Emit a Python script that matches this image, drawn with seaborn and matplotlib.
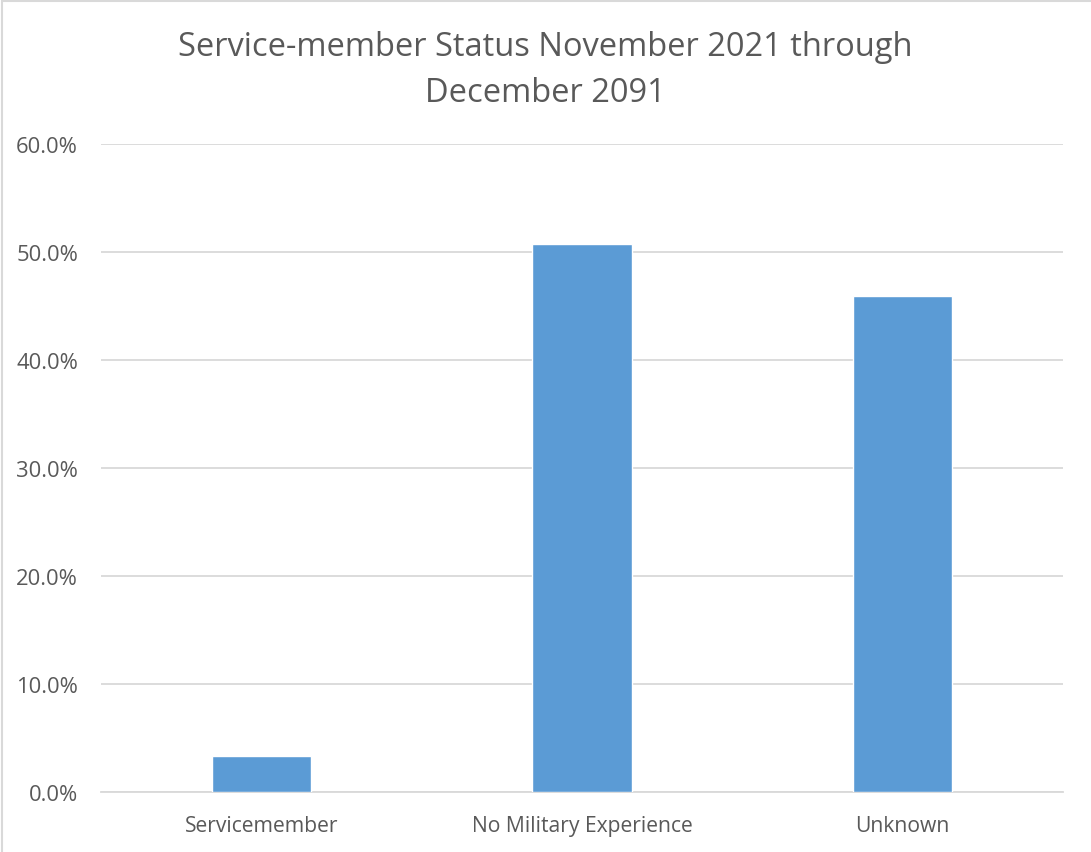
import matplotlib
matplotlib.use("Agg")
import matplotlib.pyplot as plt
import seaborn as sns
import pandas as pd
from matplotlib.patches import Rectangle
from matplotlib.ticker import FuncFormatter

categories = ["Servicemember", "No Military Experience", "Unknown"]
shares = [3.3, 50.7, 45.9]
y_ticks = [0, 10, 20, 30, 40, 50, 60]
title = "Service-member Status November 2021 through\nDecember 2091"

sns.set_theme(style="white")
plt.rcParams["font.family"] = ["Open Sans", "DejaVu Sans"]

TEXT = "#595959"
GRID = "#d9d9d9"
BAR = "#5b9bd5"

df = pd.DataFrame({"category": categories, "share": shares})

fig = plt.figure(figsize=(10.91, 8.53), dpi=100)
ax = fig.add_axes([101 / 1091, 60 / 853, 962 / 1091, 648 / 853])

sns.barplot(data=df, x="category", y="share", color=BAR, width=0.31,
            saturation=1, ax=ax, zorder=3)

ax.set_ylim(0, 60)
ax.set_yticks(y_ticks)
ax.yaxis.set_major_formatter(FuncFormatter(lambda v, _: f"{v:.1f}%"))
ax.yaxis.grid(True, color=GRID, linewidth=1.3, zorder=0)
ax.set_axisbelow(True)
for s in ["top", "right", "left"]:
    ax.spines[s].set_visible(False)
ax.spines["bottom"].set_color(GRID)
ax.spines["bottom"].set_linewidth(1.3)
ax.tick_params(axis="both", length=0, labelcolor=TEXT)
ax.tick_params(axis="y", pad=16.5, labelsize=15.8)
ax.tick_params(axis="x", pad=16.5, labelsize=15.2)
ax.set_xlabel("")
ax.set_ylabel("")

fig.text(0.5, 1 - 31 / 853, title, ha="center", va="top", fontsize=23.5,
         color=TEXT, linespacing=1.52)

# chart frame
fig.patches.append(Rectangle((2 / 1091, -0.01), 1.2, 1.0 - 1.5 / 853 + 0.01,
                             transform=fig.transFigure, fill=False,
                             edgecolor=GRID, linewidth=1.5))

fig.savefig("out.png", dpi=100)
